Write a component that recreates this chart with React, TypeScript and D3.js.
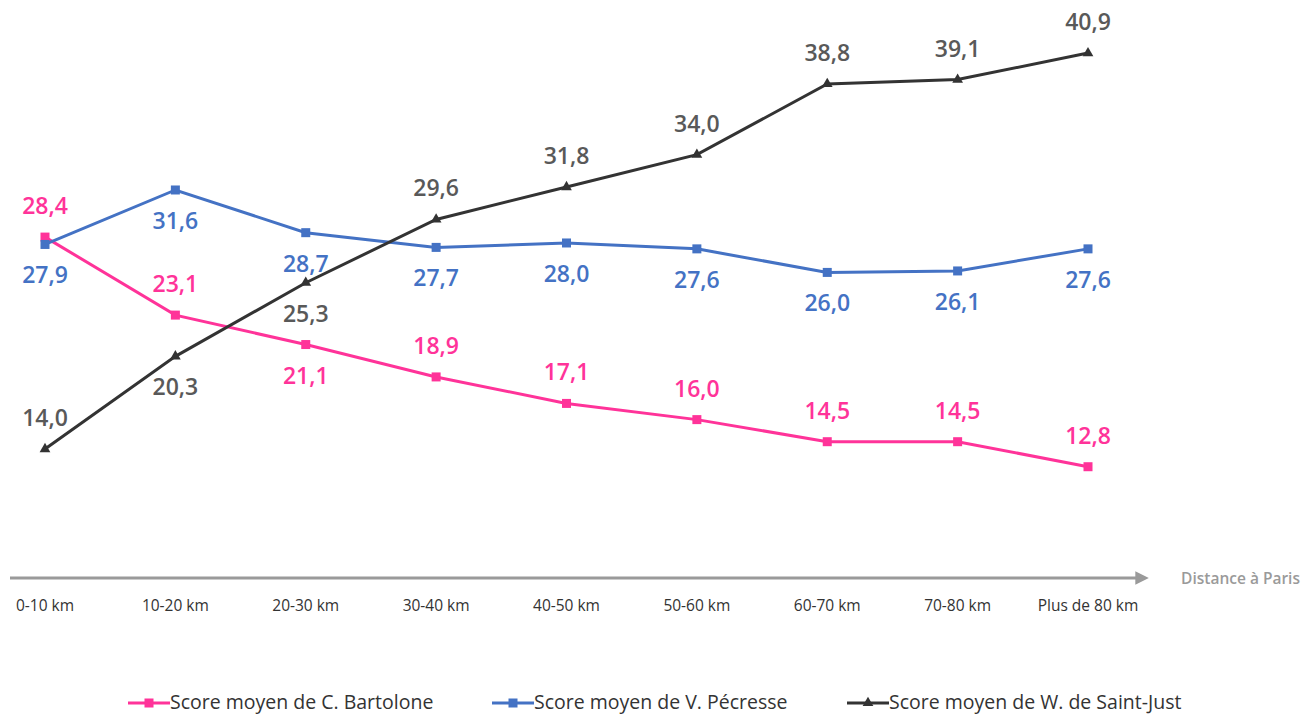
import React from 'react';
import * as d3 from 'd3';

const categories = ['0-10 km', '10-20 km', '20-30 km', '30-40 km', '40-50 km', '50-60 km', '60-70 km', '70-80 km', 'Plus de 80 km'];
const bartolone = [28.4, 23.1, 21.1, 18.9, 17.1, 16.0, 14.5, 14.5, 12.8];
const pecresse = [27.9, 31.6, 28.7, 27.7, 28.0, 27.6, 26.0, 26.1, 27.6];
const saintJust = [14.0, 20.3, 25.3, 29.6, 31.8, 34.0, 38.8, 39.1, 40.9];
// label placement: 1 above, -1 below
const bartolonePos = [1, 1, -1, 1, 1, 1, 1, 1, 1];
const pecressePos = [-1, -1, -1, -1, -1, -1, -1, -1, -1];
const saintJustPos = [1, -1, -1, 1, 1, 1, 1, 1, 1];

const W = 1303;
const H = 715;
const FONT = "'Open Sans', 'Noto Sans', sans-serif";

const series = [
  { name: 'Score moyen de C. Bartolone', values: bartolone, pos: bartolonePos, color: '#FF3399', label: '#FF3399', marker: 'square', legendX: 128 },
  { name: 'Score moyen de V. Pécresse', values: pecresse, pos: pecressePos, color: '#4472C4', label: '#4472C4', marker: 'square', legendX: 492 },
  { name: 'Score moyen de W. de Saint-Just', values: saintJust, pos: saintJustPos, color: '#333333', label: '#595959', marker: 'triangle', legendX: 847 },
];

const App = () => {
  const x = d3.scalePoint<string>().domain(categories).range([45, 1088]);
  const y = d3.scaleLinear().domain([5.24, 42]).range([578, 36.9]);
  const axisY = y(5.24);

  const line = d3.line<number>()
    .x((_, i) => x(categories[i]) as number)
    .y((d) => y(d));

  const tri = d3.symbol().type(d3.symbolTriangle).size(50)();

  const marker = (kind: string, cx: number, cy: number, color: string, key: string) =>
    kind === 'square'
      ? <rect key={key} x={cx - 4.5} y={cy - 4.5} width={9} height={9} fill={color} />
      : <path key={key} d={tri as string} transform={`translate(${cx},${cy})`} fill={color} />;

  return (
    <svg width={W} height={H} style={{ position: 'absolute', left: 0, top: 0, background: '#fff' }}>
      <defs>
        <marker id="arrow" viewBox="0 0 10 10" refX="2" refY="5" markerWidth="4.5" markerHeight="4.5" orient="auto">
          <path d="M0,0 L10,5 L0,10 z" fill="#9a9a9a" />
        </marker>
      </defs>

      {/* x axis */}
      <line x1={10} x2={1138} y1={axisY} y2={axisY} stroke="#9a9a9a" strokeWidth={3} markerEnd="url(#arrow)" />
      <text x={1300} y={axisY + 6} textAnchor="end" fontFamily={FONT} fontSize={15.5} fontWeight={600} fill="#9a9a9a">Distance à Paris</text>
      {categories.map((c) => (
        <text key={c} x={x(c)} y={axisY + 33} textAnchor="middle" fontFamily={FONT} fontSize={15.5} fontWeight={500} fill="#333">{c}</text>
      ))}

      {/* series lines */}
      {series.map((s) => (
        <g key={s.name}>
          <path d={line(s.values) as string} fill="none" stroke={s.color} strokeWidth={3} />
          {s.values.map((v, i) => marker(s.marker, x(categories[i]) as number, y(v), s.color, `${s.name}-m${i}`))}
        </g>
      ))}

      {/* labels */}
      {series.map((s) => (
        <g key={s.name + '-labels'}>
          {s.values.map((v, i) => (
            <text key={i} x={x(categories[i])} y={y(v) - s.pos[i] * 31 + 8} textAnchor="middle"
              fontFamily={FONT} fontSize={23} fontWeight={600} fill={s.label}>
              {d3.format('.1f')(v).replace('.', ',')}
            </text>
          ))}
        </g>
      ))}

      {/* legend */}
      {series.map((s) => (
        <g key={s.name + '-legend'}>
          <line x1={s.legendX} x2={s.legendX + 42} y1={703} y2={703} stroke={s.color} strokeWidth={3} />
          {marker(s.marker, s.legendX + 21, 703, s.color, s.name + '-lm')}
          <text x={s.legendX + 42} y={709} fontFamily={FONT} fontSize={19.5} fill="#333">{s.name}</text>
        </g>
      ))}
    </svg>
  );
};

export default App;
